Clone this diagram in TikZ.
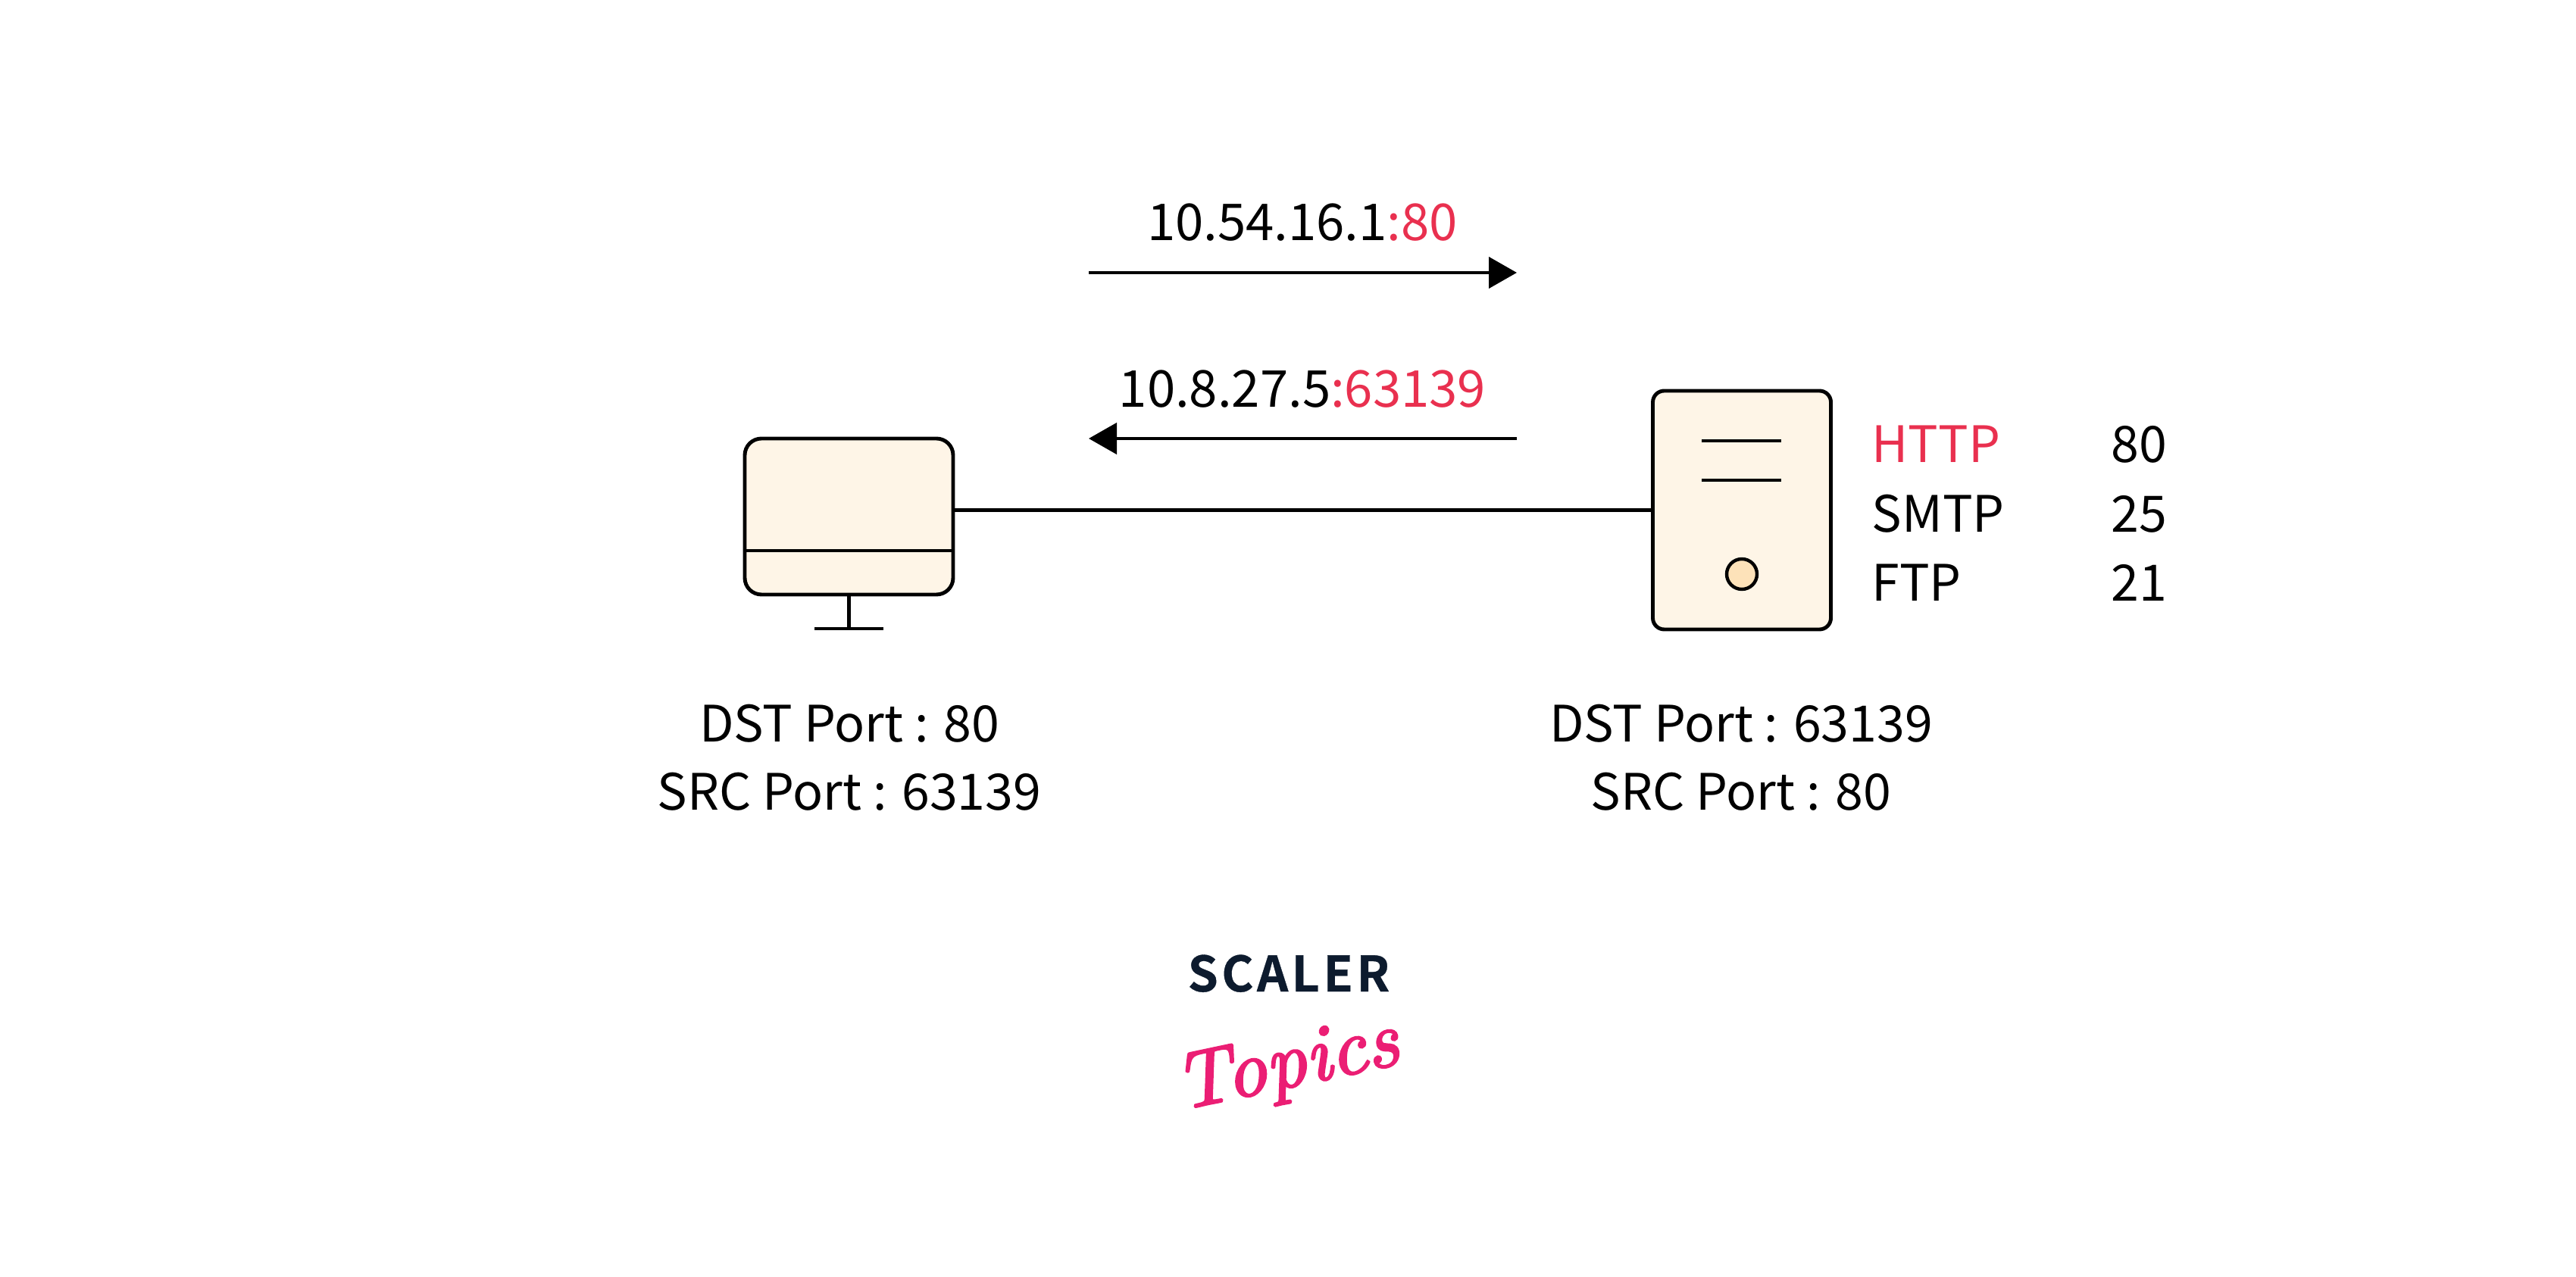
\documentclass[tikz,border=0pt]{standalone}
\usepackage{fontspec}
\setmainfont{Noto Sans CJK SC}
\newfontfamily\logobold[LetterSpace=7,FakeBold=0.6]{Noto Sans CJK SC Bold}
\newfontfamily\logoscript[FakeBold=2.5]{lmroman10-italic.otf}
\usetikzlibrary{arrows.meta}
\definecolor{cream}{HTML}{FEF5E7}
\definecolor{lamp}{HTML}{FDE2B9}
\definecolor{portred}{HTML}{E9304F}
\definecolor{logonavy}{HTML}{0D1B2E}
\definecolor{logopink}{HTML}{EB1E74}
\tikzset{
    box/.style={draw, line width=1.4pt, fill=cream},
    wire/.style={line width=1.25pt},
    flow/.style={line width=1.25pt, -{Triangle[length=0.37cm,width=0.41cm]}},
    label/.style={anchor=base, inner sep=0pt, font=\fontsize{18.85}{23}\selectfont},
    iplabel/.style={label, font=\fontsize{19.1}{23}\selectfont},
    labelw/.style={label, anchor=base west},
    labele/.style={label, anchor=base east}
}
\begin{document}
\begin{tikzpicture}
    \useasboundingbox (0,0) rectangle (34,16.85);
    \node [iplabel] (iptop) at (17.19,13.67) {10.54.16.1\textcolor{portred}{:80}};
    \node [iplabel] (ipbottom) at (17.19,11.47) {10.8.27.5\textcolor{portred}{:63139}};
    \coordinate (toptail) at (14.37,13.25);
    \coordinate (tophead) at (20.02,13.25);
    \coordinate (bottomtail) at (20.02,11.06);
    \coordinate (bottomhead) at (14.37,11.06);
    \draw [flow] (toptail) -- (tophead);
    \draw [flow] (bottomtail) -- (bottomhead);
    \node [box, rounded corners=0.22cm, minimum width=2.75cm, minimum height=2.06cm] (monitor) at (11.205,10.03) {};
    \node [box, rounded corners=0.15cm, minimum width=2.35cm, minimum height=3.15cm] (server) at (22.99,10.115) {};
    \draw [wire] (server.west) -- (monitor.east |- server.west);
    \coordinate (screenline) at (11.205,9.58);
    \draw [wire] (monitor.west |- screenline) -- (monitor.east |- screenline);
    \coordinate (footleft) at (10.75,8.55);
    \coordinate (footright) at (11.66,8.55);
    \coordinate (footmid) at (11.205,8.55);
    \draw [wire] (monitor.south) -- (footmid);
    \draw [wire] (footleft) -- (footright);
    \coordinate (slotaleft) at (22.46,11.03);
    \coordinate (slotaright) at (23.51,11.03);
    \coordinate (slotbleft) at (22.46,10.51);
    \coordinate (slotbright) at (23.51,10.51);
    \draw [wire] (slotaleft) -- (slotaright);
    \draw [wire] (slotbleft) -- (slotbright);
    \node [draw, line width=1.25pt, fill=lamp, circle, inner sep=0pt, minimum size=0.4cm] (lamp) at (22.99,9.27) {};
    \node [labelw, text=portred] (http) at (24.70,10.74) {HTTP};
    \node [labelw] (smtp) at (24.70,9.82) {SMTP};
    \node [labelw] (ftp) at (24.70,8.91) {FTP};
    \node [labele] (httpnum) at (28.61,10.74) {80};
    \node [labele] (smtpnum) at (28.61,9.82) {25};
    \node [labele] (ftpnum) at (28.61,8.91) {21};
    \node [label] (clientdst) at (11.21,7.05) {DST Port : 80};
    \node [label] (clientsrc) at (11.21,6.16) {SRC Port : 63139};
    \node [label] (serverdst) at (22.98,7.05) {DST Port : 63139};
    \node [label] (serversrc) at (22.98,6.16) {SRC Port : 80};
    \node [anchor=base, inner sep=0pt, text=logonavy, font=\logobold\fontsize{18.3}{20}\selectfont] (scaler) at (17.01,3.76) {SCALER};
    \node [inner sep=0pt, text=logopink, rotate=12, font=\logoscript\fontsize{30}{34}\selectfont] (topics) at (16.99,2.75) {Topics};
\end{tikzpicture}
\end{document}
